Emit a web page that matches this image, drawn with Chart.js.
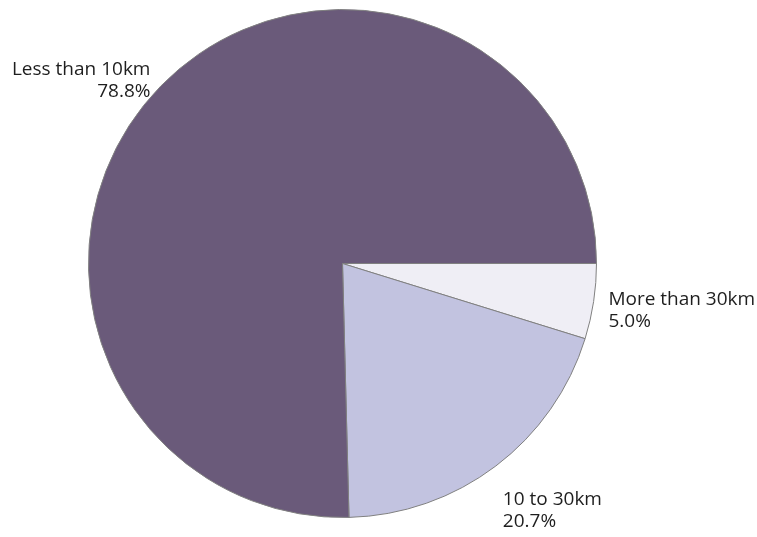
<!DOCTYPE html>
<html lang="en">
<head>
    <meta charset="UTF-8">
    <title>Distance pie</title>
    <script src="https://cdn.jsdelivr.net/npm/chart.js"></script>
    <style>
        html, body {
            margin: 0;
            padding: 0;
            background: #ffffff;
        }
        #wrap {
            width: 757px;
            height: 537px;
        }
    </style>
</head>
<body>
    <div id="wrap"><canvas id="chart" width="757" height="537"></canvas></div>

    <script>
        const categories = ['More than 30km', '10 to 30km', 'Less than 10km'];
        const values = [5.0, 20.7, 78.8];
        const valueLabels = ['5.0%', '20.7%', '78.8%'];
        const colours = ['#efeef5', '#c2c3e0', '#6a5a7a'];

        // draws "name / percent" outside each slice, anchored on the slice's mid angle
        const outsideLabels = {
            id: 'outsideLabels',
            afterDatasetsDraw(chart) {
                const ctx = chart.ctx;
                const meta = chart.getDatasetMeta(0);
                const lineH = 22;
                ctx.save();
                ctx.font = '19px "Open Sans", sans-serif';
                ctx.fillStyle = '#1e1e1e';
                ctx.textBaseline = 'alphabetic';
                meta.data.forEach((arc, i) => {
                    const p = arc.getProps(['x', 'y', 'startAngle', 'endAngle', 'outerRadius'], true);
                    const mid = (p.startAngle + p.endAngle) / 2;
                    const r = p.outerRadius + 10;
                    const cos = Math.cos(mid), sin = Math.sin(mid);
                    const ax = p.x + cos * r;
                    const ay = p.y + sin * r;
                    const cy = ay + Math.max(0, sin) * lineH * 2;
                    let tx;
                    if (cos < 0) {
                        ctx.textAlign = 'right';
                        tx = ax - 3;
                    } else {
                        ctx.textAlign = 'left';
                        tx = ax + cos * 10 - 5;
                    }
                    ctx.fillText(categories[i], tx, cy - 4.5);
                    ctx.fillText(valueLabels[i], tx, cy - 4.5 + lineH);
                });
                ctx.restore();
            }
        };

        new Chart(document.getElementById('chart').getContext('2d'), {
            type: 'pie',
            data: {
                labels: categories,
                datasets: [{
                    data: values,
                    backgroundColor: colours,
                    borderColor: '#808080',
                    borderWidth: 1
                }]
            },
            options: {
                responsive: false,
                animation: false,
                rotation: 90,
                layout: {
                    padding: { left: 88, right: 160, top: 9, bottom: 19 }
                },
                plugins: {
                    legend: { display: false },
                    tooltip: { enabled: false }
                }
            },
            plugins: [outsideLabels]
        });
    </script>
</body>
</html>
